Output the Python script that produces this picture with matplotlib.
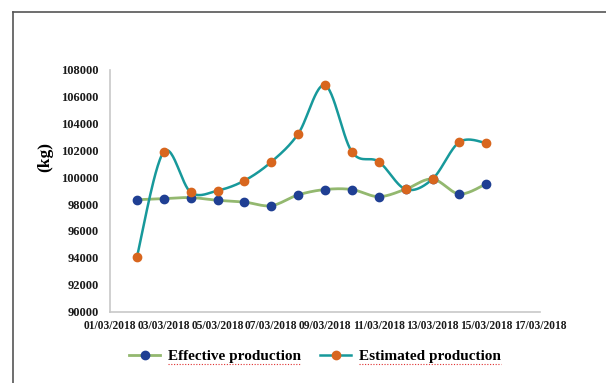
import numpy as np
import matplotlib
matplotlib.use('Agg')
import matplotlib.pyplot as plt
from matplotlib.lines import Line2D

# Días de marzo 2018 con medición
dias = [2, 3, 4, 5, 6, 7, 8, 9, 10, 11, 12, 13, 14, 15]
efectiva = [98320, 98400, 98480, 98280, 98150, 97880, 98680, 99080, 99080, 98550, 99100, 99860, 98750, 99500]
estimada = [94060, 101880, 98880, 99000, 99740, 101130, 103210, 106830, 101880, 101150, 99100, 99860, 102610, 102540]

etiquetas_x = ['01/03/2018', '03/03/2018', '05/03/2018', '07/03/2018', '09/03/2018',
               '11/03/2018', '13/03/2018', '15/03/2018', '17/03/2018']
posiciones_x = [1, 3, 5, 7, 9, 11, 13, 15, 17]
ticks_y = list(range(90000, 108001, 2000))

VERDE = '#93b86f'
AZUL = '#1f3f93'
TEAL = '#17999b'
NARANJA = '#d8661e'


def suavizar(x, y, n=30):
    # curva suavizada tipo Excel (Bezier con puntos de control Catmull-Rom)
    x = np.asarray(x, float)
    y = np.asarray(y, float)
    px = np.concatenate([[x[0]], x, [x[-1]]])
    py = np.concatenate([[y[0]], y, [y[-1]]])
    xs, ys = [], []
    t = np.linspace(0, 1, n)
    for i in range(1, len(px) - 2):
        p0 = np.array([px[i], py[i]])
        p3 = np.array([px[i + 1], py[i + 1]])
        c1 = p0 + (np.array([px[i + 1], py[i + 1]]) - np.array([px[i - 1], py[i - 1]])) / 6
        c2 = p3 - (np.array([px[i + 2], py[i + 2]]) - np.array([px[i], py[i]])) / 6
        b = (((1 - t) ** 3)[:, None] * p0 + (3 * (1 - t) ** 2 * t)[:, None] * c1
             + (3 * (1 - t) * t ** 2)[:, None] * c2 + (t ** 3)[:, None] * p3)
        xs.extend(b[:, 0])
        ys.extend(b[:, 1])
    return xs, ys


plt.rcParams['font.family'] = ['Liberation Serif', 'DejaVu Serif']
plt.rcParams['font.weight'] = 'bold'

fig = plt.figure(figsize=(6.06, 3.83), dpi=100)
ax = fig.add_axes([110 / 606, 1 - 311.7 / 383, 430 / 606, 242.2 / 383])

sx, sy = suavizar(dias, efectiva)
ax.plot(sx, sy, color=VERDE, lw=2, zorder=2)
ax.plot(dias, efectiva, 'o', color=AZUL, ms=6, zorder=3)

sx, sy = suavizar(dias, estimada)
ax.plot(sx, sy, color=TEAL, lw=1.8, zorder=4)
ax.plot(dias, estimada, 'o', color=NARANJA, ms=6, zorder=5)

ax.set_xlim(1, 17)
ax.set_ylim(90000, 108000)
ax.set_xticks(posiciones_x)
ax.set_xticklabels(etiquetas_x, fontsize=8.3, fontweight='bold')
ax.set_yticks(ticks_y)
ax.set_yticklabels([str(v) for v in ticks_y], fontsize=9, fontweight='bold')
ax.tick_params(axis='both', length=0, colors='#1a1a1a')
ax.tick_params(axis='y', pad=8)
ax.tick_params(axis='x', pad=6)

for lado in ['top', 'right']:
    ax.spines[lado].set_visible(False)
for lado in ['left', 'bottom']:
    ax.spines[lado].set_color('#c8c8c8')
    ax.spines[lado].set_linewidth(1.2)

fig.text(45 / 606, 1 - 157 / 383, '(kg)', rotation=90, fontsize=12.5,
         fontweight='bold', ha='center', va='center')

handles = [
    Line2D([], [], color=VERDE, lw=2, marker='o', markerfacecolor=AZUL,
           markeredgecolor=AZUL, ms=6),
    Line2D([], [], color=TEAL, lw=1.8, marker='o', markerfacecolor=NARANJA,
           markeredgecolor=NARANJA, ms=6),
]
leg = fig.legend(handles, ['Effective production', 'Estimated production'],
                 loc='center', bbox_to_anchor=(315 / 606, 1 - 356 / 383),
                 ncol=2, frameon=False, prop={'size': 11, 'weight': 'bold'},
                 handlelength=2.0, handletextpad=0.5, columnspacing=1.3)

# marco exterior (lados izquierdo y superior)
fig.add_artist(Line2D([13 / 606, 13 / 606], [0, 1 - 12 / 383], transform=fig.transFigure,
                      color='#555555', lw=1.2))
fig.add_artist(Line2D([13 / 606, 1], [1 - 12 / 383, 1 - 12 / 383], transform=fig.transFigure,
                      color='#555555', lw=1.2))

# subrayado punteado rojo bajo el texto de la leyenda
fig.canvas.draw()
for txt in leg.get_texts():
    bb = txt.get_window_extent()
    y0 = (bb.y0 - 1) / fig.bbox.height
    fig.add_artist(Line2D([bb.x0 / fig.bbox.width, bb.x1 / fig.bbox.width], [y0, y0],
                          transform=fig.transFigure, color='#e03030', lw=0.8,
                          linestyle=(0, (1, 1.5))))

fig.savefig('out.png', dpi=100)
